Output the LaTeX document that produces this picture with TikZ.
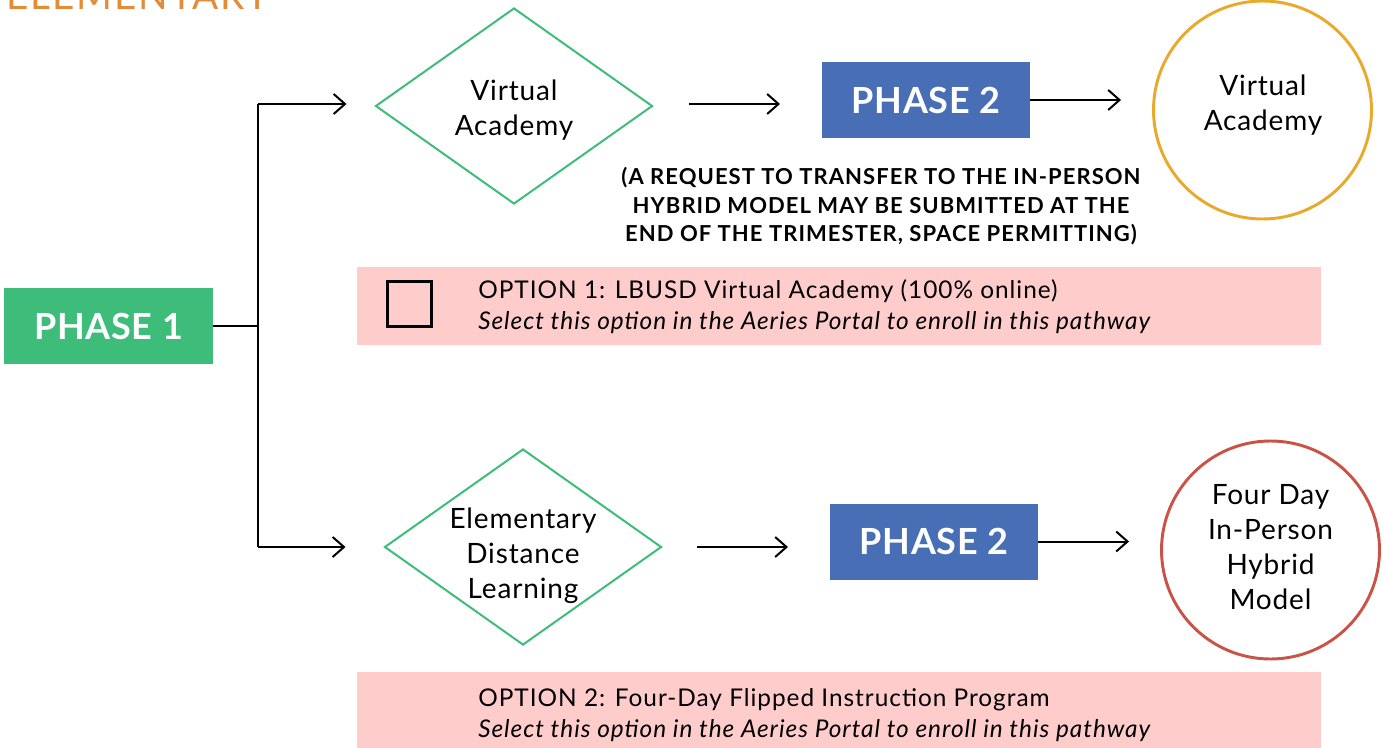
\documentclass[tikz,border=0pt]{standalone}
\usepackage{fontspec}
\setmainfont{Lato}
\newfontfamily\optfont{Lato}[LetterSpace=4]
\newfontfamily\notefont{Lato}[LetterSpace=4.8]
\newfontfamily\shapefont{Lato}[LetterSpace=3]
\newfontfamily\phasefont{Lato}[LetterSpace=2]
\newfontfamily\titlefont{Lato}[LetterSpace=5]
\usetikzlibrary{shapes.geometric,arrows.meta}
\definecolor{phgreen}{HTML}{3DBC7A}
\definecolor{phblue}{HTML}{486EB6}
\definecolor{optpink}{HTML}{FFCCCC}
\definecolor{circorange}{HTML}{E9A92B}
\definecolor{circred}{HTML}{C95346}
\definecolor{titleorange}{HTML}{E38B36}
\begin{document}
\begin{tikzpicture}[x=0.75pt,y=-0.75pt,
  conn/.style={line width=1.5pt,-{Straight Barb[length=8.5pt,width=15pt,line width=1.5pt]}},
  phasebox/.style={rectangle,inner sep=0pt,minimum width=208*0.75pt,minimum height=76*0.75pt,text=white,font=\phasefont\fontsize{27}{32}\selectfont\bfseries},
  choice/.style={diamond,draw=phgreen,line width=1.5pt,inner sep=0pt,aspect=1.413,minimum width=277*0.75pt,minimum height=196*0.75pt},
  outcome/.style={circle,line width=2.2pt,inner sep=0pt,minimum size=218*0.75pt},
  shapetext/.style={align=center,inner sep=0pt,font=\shapefont\fontsize{21}{26.2}\selectfont},
  band/.style={rectangle,fill=optpink,inner sep=0pt,minimum width=964*0.75pt,minimum height=78*0.75pt},
  opttext/.style={anchor=west,align=left,inner sep=0pt,font=\optfont\fontsize{18.3}{23.2}\selectfont}
]
\useasboundingbox (0,0) rectangle (1383,748);

% title (cut off at top)
\node[anchor=base west,inner sep=0pt,text=titleorange,font=\titlefont\fontsize{29}{34}\selectfont] (title) at (6,10) {ELEMENTARY};

% option bands
\node[band] (band1) at (839,306) {};
\node[band,minimum height=80*0.75pt] (band2) at (839,712) {};
\node[draw=black,line width=2.2pt,rectangle,inner sep=0pt,minimum width=44*0.75pt,minimum height=45*0.75pt] (check) at (409.5,304) {};
\node[opttext] (opt1) at (478,307) {OPTION 1: LBUSD Virtual Academy (100\% online)\\\textit{Select this option in the Aeries Portal to enroll in this pathway}};
\node[opttext] (opt2) at (478,715) {OPTION 2: Four-Day Flipped Instruction Program\\\textit{Select this option in the Aeries Portal to enroll in this pathway}};

% phase 1
\node[phasebox,fill=phgreen,minimum width=209*0.75pt] (p1) at (108.5,326) {PHASE 1};
\coordinate (split) at (258,326);
\coordinate (top) at (258,104);
\coordinate (bot) at (258,547);

% diamonds
\node[choice] (d1) at (514,106) {};
\node[shapetext] (d1t) at (514,110) {Virtual\\Academy};
\node[choice] (d2) at (523,547) {};
\node[shapetext] (d2t) at (523,556) {Elementary\\Distance\\Learning};

% phase 2 boxes
\node[phasebox,fill=phblue] (p2a) at (926,100) {PHASE 2};
\node[phasebox,fill=phblue] (p2b) at (934,541.5) {PHASE 2};

% outcomes
\node[outcome,draw=circorange] (c1) at (1262.5,110) {};
\node[shapetext] (c1t) at (1263,105) {Virtual\\Academy};
\node[outcome,draw=circred] (c2) at (1270.5,550) {};
\node[shapetext] (c2t) at (1270.5,547) {Four Day\\In-Person\\Hybrid\\Model};

% note
\node[align=center,inner sep=0pt,font=\notefont\fontsize{16.5}{21.4}\selectfont\bfseries] (note) at (881,206.5) {(A REQUEST TO TRANSFER TO THE IN-PERSON\\HYBRID MODEL MAY BE SUBMITTED AT THE\\END OF THE TRIMESTER, SPACE PERMITTING)};

% arrow end coordinates
\coordinate (a1s) at (689,104);
\coordinate (a1e) at (780,104);
\coordinate (a2s) at (697,547);
\coordinate (a2e) at (788,547);

% connectors
\draw[line width=1.5pt] (p1.east) -- (split);
\draw[line width=1.5pt] (top) -- (bot);
\draw[conn] (top) -- ([xshift=-28*0.75pt]d1.west |- top);
\draw[conn] (bot) -- ([xshift=-38*0.75pt]d2.west |- bot);
\draw[conn] (a1s) -- (a1e);
\draw[conn] (a2s) -- (a2e);
\draw[conn] (p2a.east) -- ([xshift=-31*0.75pt]c1.west |- p2a.east);
\draw[conn] (p2b.east) -- ([xshift=-31*0.75pt]c2.west |- p2b.east);
\end{tikzpicture}
\end{document}
